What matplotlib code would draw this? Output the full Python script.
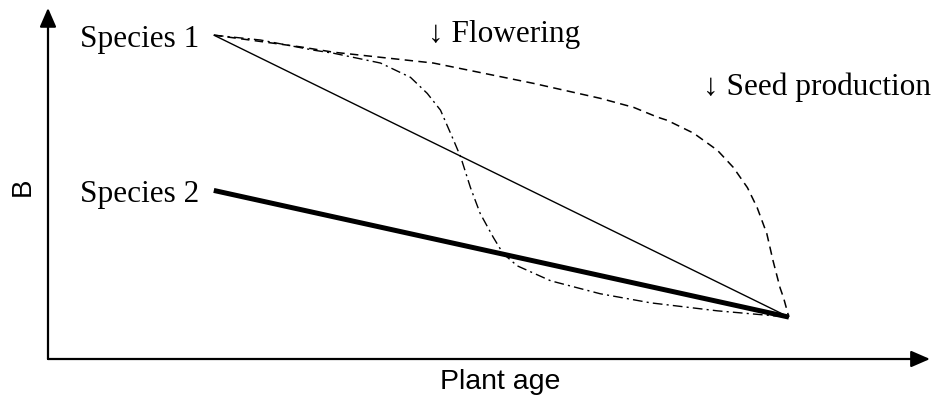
import matplotlib
matplotlib.use("Agg")
import matplotlib.pyplot as plt

# Plant age (x) and B (y) on a 0-100 schematic scale
species1_age = [18.8, 84.0]
species1_b = [92.8, 12.0]

species2_age = [18.8, 84.0]
species2_b = [48.3, 12.0]

flowering_age = [18.8, 24.1, 30.1, 32.4, 37.7, 41.1, 43.0, 44.5, 46.0, 46.8,
                 47.9, 49.0, 50.5, 51.6, 53.2, 57.0, 62.6, 68.3, 75.9, 84.0]
flowering_b = [92.8, 91.4, 88.5, 87.6, 84.8, 80.7, 76.1, 71.3, 62.6, 57.8,
               49.1, 41.7, 34.8, 30.2, 26.7, 22.4, 18.7, 16.1, 13.8, 12.0]

seed_age = [18.8, 28.7, 32.4, 43.7, 55.0, 62.6, 66.4, 69.1, 70.2, 73.2,
            75.9, 77.7, 79.3, 80.4, 81.5, 82.2, 83.0, 83.4, 84.0]
seed_b = [92.8, 89.4, 87.9, 84.8, 79.0, 74.7, 72.1, 69.3, 68.4, 64.7,
          59.8, 54.9, 49.1, 43.4, 35.9, 28.2, 20.4, 17.5, 12.0]

serif = ["Liberation Serif", "DejaVu Serif"]
sans = ["Liberation Sans", "DejaVu Sans"]

fig = plt.figure(figsize=(9.4, 4.03), dpi=100)
ax = fig.add_axes([48 / 940, 44 / 403, 882 / 940, 349 / 403])
ax.set_xlim(0, 100)
ax.set_ylim(0, 100)
ax.set_axis_off()

# Axes drawn as arrows
arrow_kw = dict(arrowstyle="-|>,head_length=1.15,head_width=0.5", color="black",
                lw=1.6, shrinkA=0, shrinkB=0)
ax.annotate("", xy=(1.0, 0.0), xytext=(0.0, 0.0), xycoords="axes fraction",
            textcoords="axes fraction", arrowprops=arrow_kw, annotation_clip=False)
ax.annotate("", xy=(0.0, 1.006), xytext=(0.0, 0.0), xycoords="axes fraction",
            textcoords="axes fraction", arrowprops=arrow_kw, annotation_clip=False)

ax.plot(species1_age, species1_b, color="black", lw=1.0, solid_capstyle="butt")
ax.plot(species2_age, species2_b, color="black", lw=3.6, solid_capstyle="butt")
ax.plot(flowering_age, flowering_b, color="black", lw=1.0,
        linestyle=(0, (7, 3, 1.5, 3)))
ax.plot(seed_age, seed_b, color="black", lw=1.1, linestyle=(0, (5.5, 3.5)))

ax.text(17.1, 89.5, "Species 1", family=serif, fontsize=22.5, ha="right", va="baseline")
ax.text(17.2, 45.1, "Species 2", family=serif, fontsize=22.5, ha="right", va="baseline")
ax.text(43.1, 90.9, "↓ Flowering", family=serif, fontsize=22.5, ha="left", va="baseline")
ax.text(74.3, 75.6, "↓ Seed production", family=serif, fontsize=22.5, ha="left",
        va="baseline")

fig.text(23 / 940, 1 - 187 / 403, "B", family=sans, fontsize=20, rotation=90,
         ha="center", va="center")
fig.text(500 / 940, 1 - 389 / 403, "Plant age", family=sans, fontsize=20.5,
         ha="center", va="baseline")

fig.savefig("out.png", dpi=100)
